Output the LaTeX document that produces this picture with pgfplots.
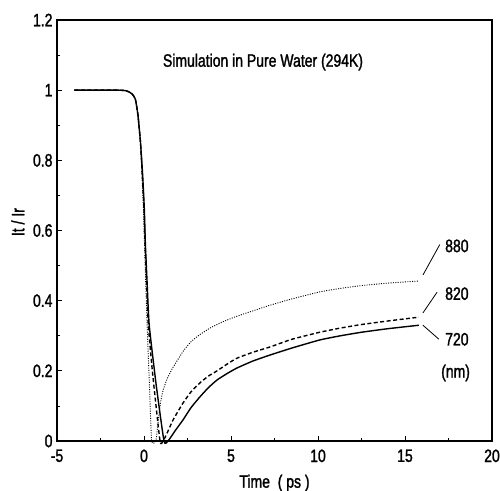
\documentclass[border=0pt]{standalone}
\usepackage{fontspec}
\setmainfont{Liberation Sans}[FakeStretch=0.78,FakeBold=1.5]
\usepackage{pgfplots}
\pgfplotsset{compat=1.18}
\usetikzlibrary{calc}

\begin{document}
\begin{tikzpicture}
\begin{axis}[
    name=ax,
    scale only axis,
    width=435bp,
    height=421bp,
    xmin=-5, xmax=20,
    ymin=0, ymax=1.2,
    xtick={-5,0,5,10,15,20},
    ytick={0,0.2,0.4,0.6,0.8,1,1.2},
    minor x tick num=1,
    minor y tick num=1,
    tick pos=left,
    tick align=inside,
    major tick length=5bp,
    minor tick length=3bp,
    axis line style={line width=1.3bp},
    every tick/.style={black, line width=0.8bp},
    /pgf/number format/assume math mode=true,
    tick label style={font=\fontsize{18}{21}\selectfont},
    xticklabel style={yshift=-5bp},
    yticklabel style={xshift=-1bp},
    label style={font=\fontsize{18}{21}\selectfont},
    xlabel={Time~~( ps )},
    ylabel={It / Ir},
    xlabel style={at={(axis description cs:0.5,-0.1)}, anchor=center},
    ylabel style={at={(axis description cs:-0.09,0.52)}, anchor=center},
    clip=false
]
% 880 nm
\addplot[black, line width=0.9bp, dash pattern=on 1bp off 1.4bp, smooth, tension=0.3] coordinates {
(-4,1) (-1.5,1) (-1,0.998) (-0.7,0.99) (-0.5,0.975) (-0.35,0.93) (-0.2,0.85)
(-0.12,0.76) (-0.03,0.66) (0.03,0.56) (0.1,0.45) (0.18,0.33) (0.32,0.15)
(0.44,0) (0.68,0) (0.8,0.05) (0.95,0.11) (1.1,0.145) (1.35,0.18) (1.67,0.21)
(2.24,0.255) (2.7,0.283) (3.2,0.303) (3.8,0.322) (4.54,0.34) (5.2,0.353)
(5.9,0.365) (7.24,0.387) (8.5,0.405) (10.1,0.425) (11.3,0.435) (12.5,0.443)
(14,0.45) (15.8,0.456)};
% 820 nm
\addplot[black, line width=1.4bp, dash pattern=on 4bp off 2.5bp, smooth, tension=0.3] coordinates {
(-4,1) (-1.5,1) (-1,0.998) (-0.7,0.99) (-0.5,0.975) (-0.35,0.93) (-0.2,0.85)
(-0.1,0.76) (0,0.66) (0.06,0.56) (0.15,0.45) (0.25,0.33) (0.5,0.19)
(0.92,0) (1.1,0) (1.35,0.025) (1.67,0.06) (2.24,0.108) (2.7,0.14) (3.2,0.165)
(3.7,0.185) (4.2,0.2) (4.8,0.22) (5.34,0.236) (6.26,0.253) (7.24,0.268)
(8.5,0.29) (10.1,0.31) (11.3,0.322) (12.5,0.332) (14,0.342) (15.8,0.353)};
% 720 nm
\addplot[black, line width=1.4bp, smooth, tension=0.3] coordinates {
(-4,1) (-1.5,1) (-1,0.998) (-0.7,0.99) (-0.5,0.975) (-0.35,0.93) (-0.2,0.85)
(-0.08,0.76) (0.02,0.66) (0.08,0.56) (0.18,0.45) (0.3,0.33) (0.7,0.16)
(1.15,0) (1.38,0) (1.8,0.03) (2.24,0.06) (2.7,0.095) (3.2,0.125) (3.7,0.152)
(4.2,0.174) (4.8,0.193) (5.34,0.208) (6.26,0.228) (7.24,0.245) (8.5,0.265)
(10.1,0.288) (11.3,0.3) (12.5,0.31) (14,0.32) (15.8,0.33)};

\node[font=\fontsize{18}{21}\selectfont] at (axis cs:6.84,1.08) {Simulation in Pure Water (294K)};
\draw[black, line width=0.8bp] (axis cs:16.03,0.473) -- (axis cs:17.0,0.56);
\draw[black, line width=0.8bp] (axis cs:16.03,0.365) -- (axis cs:16.84,0.424);
\draw[black, line width=0.8bp] (axis cs:16.03,0.33) -- (axis cs:16.95,0.29);
\node[anchor=west, inner sep=0pt, font=\fontsize{18}{21}\selectfont] at (axis cs:17.3,0.556) {880};
\node[anchor=west, inner sep=0pt, font=\fontsize{18}{21}\selectfont] at (axis cs:17.3,0.42) {820};
\node[anchor=west, inner sep=0pt, font=\fontsize{18}{21}\selectfont] at (axis cs:17.3,0.29) {720};
\node[anchor=west, inner sep=0pt, font=\fontsize{18}{21}\selectfont] at (axis cs:17.07,0.194) {(nm)};
\end{axis}
\pgfresetboundingbox
\path ($(ax.south west)+(-57bp,-50bp)$) rectangle ($(ax.north east)+(8bp,20bp)$);
\end{tikzpicture}
\end{document}
